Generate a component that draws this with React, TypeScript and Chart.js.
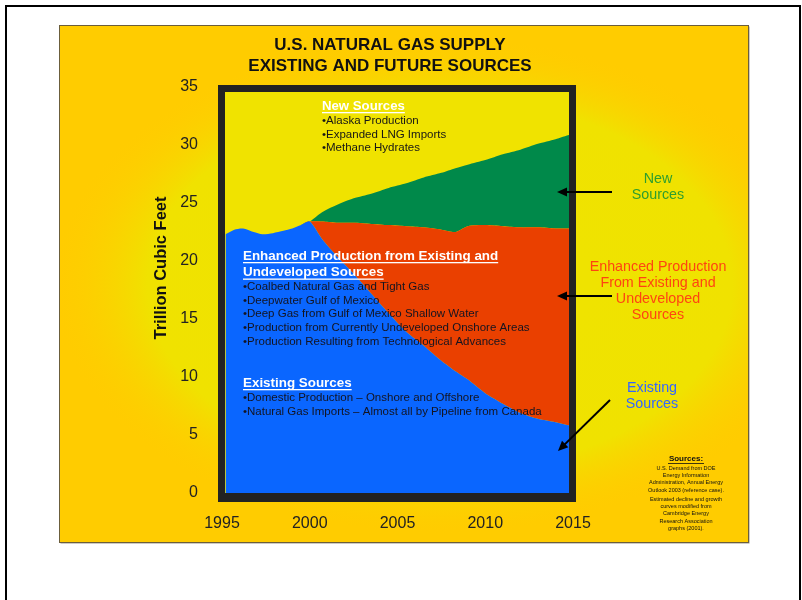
import React, { useEffect, useRef } from "react";
import { Chart, registerables } from "chart.js";

Chart.register(...registerables);

const FONT = '"Liberation Sans", Arial, Helvetica, sans-serif';

// ---- data (trillion cubic feet) ----
const years = [1995.2, 1995.7, 1996.2, 1996.8, 1997.3, 1997.9, 1998.5, 1999.0, 1999.5, 2000.0, 2000.7, 2001.5, 2002.5, 2003.5, 2004.5, 2005.5, 2006.5, 2007.5, 2008.3, 2009.0, 2010.0, 2011.0, 2012.0, 2013.0, 2014.0, 2014.85];
const existingSources = [22.3, 22.7, 22.8, 22.5, 22.3, 22.4, 22.6, 22.8, 23.1, 23.4, 21.9, 20.5, 18.9, 17.2, 15.5, 13.9, 12.7, 11.4, 10.5, 9.8, 8.6, 7.7, 6.9, 6.4, 6.1, 5.8];
const enhancedProduction = [0, 0, 0, 0, 0, 0, 0, 0, 0, 0, 1.5, 2.8, 4.4, 6.0, 7.6, 9.1, 10.2, 11.3, 12.0, 13.2, 14.5, 15.3, 16.0, 16.5, 16.7, 17.0];
const newSources = [0, 0, 0, 0, 0, 0, 0, 0, 0, 0, 0.8, 1.5, 2.1, 2.6, 3.2, 3.7, 4.3, 4.9, 5.5, 5.3, 5.6, 6.2, 6.7, 7.2, 7.7, 8.1];

const xTicks = [1995, 2000, 2005, 2010, 2015];
const yTicks = [0, 5, 10, 15, 20, 25, 30, 35];

// ---- text ----
const titleLines = ["U.S. NATURAL GAS SUPPLY", "EXISTING AND FUTURE SOURCES"];
const yTitle = "Trillion Cubic Feet";
const newHeading = ["New Sources"];
const newItems = ["•Alaska Production", "•Expanded LNG Imports", "•Methane Hydrates"];
const enhancedHeading = ["Enhanced Production from Existing and", "Undeveloped Sources"];
const enhancedItems = [
  "•Coalbed Natural Gas and Tight Gas",
  "•Deepwater Gulf of Mexico",
  "•Deep Gas from Gulf of Mexico Shallow Water",
  "•Production from Currently Undeveloped Onshore Areas",
  "•Production Resulting from Technological Advances",
];
const existingHeading = ["Existing Sources"];
const existingItems = [
  "•Domestic Production – Onshore and Offshore",
  "•Natural Gas Imports – Almost all by Pipeline from Canada",
];
const newLabel = ["New", "Sources"];
const enhancedLabel = ["Enhanced Production", "From Existing and", "Undeveloped", "Sources"];
const existingLabel = ["Existing", "Sources"];
const sourcesNote = [
  "U.S. Demand from DOE",
  "Energy Information",
  "Administration, Annual Energy",
  "Outlook 2003 (reference case).",
  "",
  "Estimated decline and growth",
  "curves modified from",
  "Cambridge Energy",
  "Research Association",
  "graphs (2001).",
];

const BLUE = "#0A66FF";
const RED = "#EA4000";
const GREEN = "#00894A";

function toPoints(vals: number[]) {
  return years.map((x, i) => ({ x, y: vals[i] }));
}

function drawLines(ctx: CanvasRenderingContext2D, lines: string[], x: number, y: number, step: number, font: string, color: string, align: CanvasTextAlign, underline = false) {
  ctx.font = font;
  ctx.fillStyle = color;
  ctx.textAlign = align;
  ctx.textBaseline = "middle";
  lines.forEach((t, i) => {
    const yy = y + i * step;
    ctx.fillText(t, x, yy);
    if (underline) {
      const w = ctx.measureText(t).width;
      const sx = align === "center" ? x - w / 2 : x;
      ctx.fillRect(sx, yy + 6, w, 1.3);
    }
  });
}

function arrow(ctx: CanvasRenderingContext2D, x1: number, y1: number, x2: number, y2: number) {
  const ang = Math.atan2(y2 - y1, x2 - x1);
  const hl = 10, hw = 4.5;
  ctx.strokeStyle = "#000";
  ctx.fillStyle = "#000";
  ctx.lineWidth = 2;
  ctx.beginPath();
  ctx.moveTo(x1, y1);
  ctx.lineTo(x2 - Math.cos(ang) * hl * 0.8, y2 - Math.sin(ang) * hl * 0.8);
  ctx.stroke();
  ctx.beginPath();
  ctx.moveTo(x2, y2);
  ctx.lineTo(x2 - Math.cos(ang) * hl + Math.sin(ang) * hw, y2 - Math.sin(ang) * hl - Math.cos(ang) * hw);
  ctx.lineTo(x2 - Math.cos(ang) * hl - Math.sin(ang) * hw, y2 - Math.sin(ang) * hl + Math.cos(ang) * hw);
  ctx.closePath();
  ctx.fill();
}

const decorPlugin = {
  id: "decor",
  beforeDraw(chart: any) {
    const ctx: CanvasRenderingContext2D = chart.ctx;
    ctx.save();
    ctx.fillStyle = "#ffffff";
    ctx.fillRect(0, 0, chart.width, chart.height);
    // outer page frame
    ctx.strokeStyle = "#000";
    ctx.lineWidth = 2;
    ctx.strokeRect(6, 6, 794, 640);
    // panel
    const px = 59, py = 25, pw = 689, ph = 517;
    ctx.fillStyle = "rgba(90,80,60,0.6)";
    ctx.fillRect(px + 1.5, py + 1.5, pw, ph);
    ctx.fillStyle = "#FFCC00";
    ctx.fillRect(px, py, pw, ph);
    ctx.save();
    ctx.beginPath();
    ctx.rect(px, py, pw, ph);
    ctx.clip();
    const cx = 440, cy = 285, rx = 390, ry = 250;
    ctx.translate(cx, cy);
    ctx.scale(rx / ry, 1);
    const g = ctx.createRadialGradient(0, 0, 0, 0, 0, ry);
    g.addColorStop(0, "rgba(238,228,0,1)");
    g.addColorStop(0.75, "rgba(240,226,0,1)");
    g.addColorStop(1, "rgba(255,204,0,0)");
    ctx.fillStyle = g;
    ctx.fillRect(-ry * 2, -ry * 2, ry * 4, ry * 4);
    ctx.restore();
    ctx.strokeStyle = "#6b5e3c";
    ctx.lineWidth = 1;
    ctx.strokeRect(px + 0.5, py + 0.5, pw, ph);
    // plot inner background
    ctx.fillStyle = "#F0E300";
    ctx.fillRect(225, 92, 345, 403);
    ctx.restore();
  },
  afterDatasetsDraw(chart: any) {
    const ctx: CanvasRenderingContext2D = chart.ctx;
    ctx.save();
    // thick frame
    ctx.strokeStyle = "#222";
    ctx.lineWidth = 7;
    ctx.strokeRect(221.5, 88.5, 351, 410);
    ctx.fillStyle = "#222";
    ctx.fillRect(218, 493, 358, 9);

    // title
    drawLines(ctx, titleLines, 390, 45, 21, `bold 17px ${FONT}`, "#111", "center");

    // y title
    ctx.save();
    ctx.translate(161, 268);
    ctx.rotate(-Math.PI / 2);
    ctx.font = `bold 16.5px ${FONT}`;
    ctx.fillStyle = "#111";
    ctx.textAlign = "center";
    ctx.textBaseline = "middle";
    ctx.fillText(yTitle, 0, 0);
    ctx.restore();

    // in-plot annotations
    drawLines(ctx, newHeading, 322, 106, 16, `bold 13.2px ${FONT}`, "#ffffff", "left", true);
    drawLines(ctx, newItems, 322, 121, 13.6, `11.5px ${FONT}`, "#161616", "left");
    drawLines(ctx, enhancedHeading, 243, 256, 16.5, `bold 13.4px ${FONT}`, "#ffffff", "left", true);
    drawLines(ctx, enhancedItems, 243, 287, 13.6, `11.5px ${FONT}`, "#141420", "left");
    drawLines(ctx, existingHeading, 243, 383, 16, `bold 13.4px ${FONT}`, "#ffffff", "left", true);
    drawLines(ctx, existingItems, 243, 397.5, 14, `11.5px ${FONT}`, "#141420", "left");

    // right-hand labels
    drawLines(ctx, newLabel, 658, 179, 16.5, `14.3px ${FONT}`, "#2E9E2E", "center");
    drawLines(ctx, enhancedLabel, 658, 267, 16, `14.3px ${FONT}`, "#FF4411", "center");
    drawLines(ctx, existingLabel, 652, 388, 16, `14.3px ${FONT}`, "#3366FF", "center");

    arrow(ctx, 612, 192, 557, 192);
    arrow(ctx, 612, 296, 557, 296);
    arrow(ctx, 610, 400, 558, 451);

    // sources note
    drawLines(ctx, ["Sources:"], 686, 459, 8, `bold 8px ${FONT}`, "#111", "center", false);
    ctx.fillStyle = "#111";
    ctx.fillRect(668, 463, 36, 0.8);
    const noteY = [468, 475, 482.5, 490, 0, 499, 506.5, 513.5, 521, 528];
    ctx.font = `5.5px ${FONT}`;
    ctx.textAlign = "center";
    ctx.textBaseline = "middle";
    sourcesNote.forEach((t, i) => {
      if (t) ctx.fillText(t, 686, noteY[i]);
    });
    ctx.restore();
  },
};

export default function App() {
  const ref = useRef<HTMLCanvasElement | null>(null);
  useEffect(() => {
    if (!ref.current) return;
    const chart = new Chart(ref.current, {
      type: "line",
      data: {
        datasets: [
          { label: "Existing Sources", data: toPoints(existingSources), backgroundColor: BLUE, borderWidth: 0, pointRadius: 0, fill: "origin", tension: 0.25 },
          { label: "Enhanced Production", data: toPoints(enhancedProduction), backgroundColor: RED, borderWidth: 0, pointRadius: 0, fill: "-1", tension: 0.25 },
          { label: "New Sources", data: toPoints(newSources), backgroundColor: GREEN, borderWidth: 0, pointRadius: 0, fill: "-1", tension: 0.25 },
        ],
      },
      options: {
        animation: false,
        responsive: false,
        devicePixelRatio: 1,
        layout: { padding: { left: 0, right: 229, top: 87, bottom: 60 } },
        plugins: { legend: { display: false }, tooltip: { enabled: false } },
        scales: {
          x: {
            type: "linear",
            min: 1995,
            max: 2015,
            afterFit: (s: any) => { s.height = 47; },
            afterBuildTicks: (s: any) => { s.ticks = xTicks.map((v) => ({ value: v })); },
            ticks: { callback: (v: any) => String(v), font: { family: FONT, size: 16 }, color: "#222", padding: 21, maxRotation: 0 },
            grid: { display: false, drawTicks: false },
            border: { display: false },
          },
          y: {
            type: "linear",
            stacked: true,
            min: 0,
            max: 35,
            afterFit: (s: any) => { s.width = 222; },
            afterBuildTicks: (s: any) => { s.ticks = yTicks.map((v) => ({ value: v })); },
            ticks: { font: { family: FONT, size: 16 }, color: "#222", padding: 24 },
            grid: { display: false, drawTicks: false },
            border: { display: false },
          },
        },
      },
      plugins: [decorPlugin],
    } as any);
    return () => chart.destroy();
  }, []);
  return (
    <div style={{ position: "absolute", left: 0, top: 0, width: 802, height: 600 }}>
      <canvas ref={ref} width={802} height={600} style={{ width: 802, height: 600, display: "block" }} />
    </div>
  );
}
